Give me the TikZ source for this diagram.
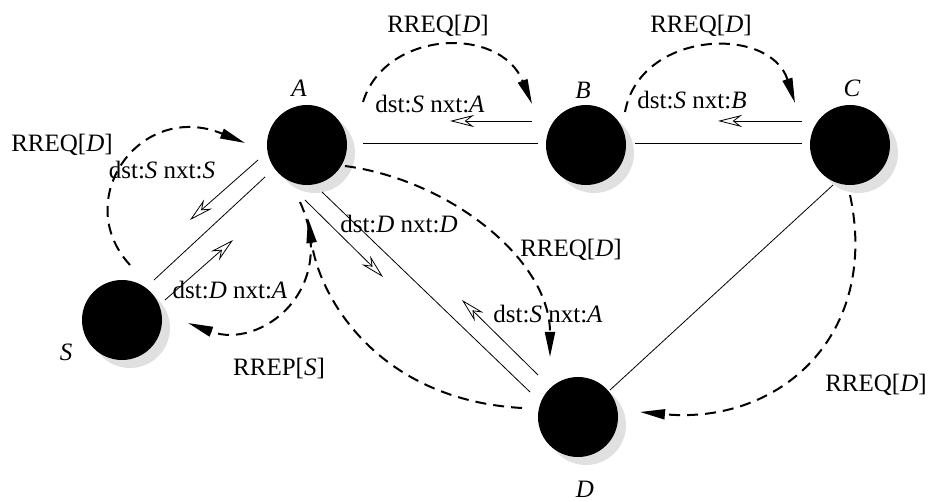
\documentclass[tikz,border=0pt]{standalone}
\usepackage{fontspec}
\setmainfont{Liberation Serif}
\usetikzlibrary{arrows.meta,calc,shadows}
\tikzset{
  dot/.style={circle,fill=black,minimum size=80pt,inner sep=0pt,
    drop shadow={shadow xshift=8pt,shadow yshift=-8pt,fill=black!12,opacity=1}},
  link/.style={line width=0.8pt},
  msg/.style={line width=0.8pt,-{Stealth[open,length=24pt,width=12pt,inset=8pt]}},
  req/.style={line width=2pt,dash pattern=on 11pt off 7pt,-{Triangle[length=25pt,width=10pt]}},
  lbl/.style={font=\fontsize{25}{29}\selectfont,inner sep=1pt}
}
\begin{document}
\begin{tikzpicture}[x=1pt,y=-1pt]
\useasboundingbox (0,0) rectangle (929,502);
\node[dot] (A) at (307,145) {};
\node[dot] (B) at (586,145) {};
\node[dot] (C) at (850,145) {};
\node[dot] (S) at (122,320) {};
\node[dot] (D) at (578,417) {};
% node names
\node[lbl] (lA) at (299,88) {\textit{A}};
\node[lbl] (lB) at (583,90) {\textit{B}};
\node[lbl] (lC) at (852,88) {\textit{C}};
\node[lbl] (lS) at (66,352) {\textit{S}};
\node[lbl] (lD) at (585,489) {\textit{D}};
% solid links
\draw[link] ($(A)+(56,-2)$) -- ($(B)+(-48,-2)$);
\draw[link] ($(B)+(49,-2)$) -- ($(C)+(-48,-2)$);
\draw[link] ($(C)+(-17,40)$) -- ($(D)+(32,-27)$);
\draw[link] ($(A)+(-42,32)$) -- ($(S)+(32,-40)$);
\draw[link] ($(A)+(15,47)$) -- ($(D)+(-48,-25)$);
% message arrows
\draw[msg] ($(B)+(-54,-24)$) -- ($(A)+(143,-24)$);
\draw[msg] ($(C)+(-48,-24)$) -- ($(B)+(132,-24)$);
\draw[msg] ($(A)+(-49,15)$) -- ($(S)+(68,-100)$);
\draw[msg] ($(S)+(43,-20)$) -- ($(A)+(-74,95)$);
\draw[msg] ($(A)+(-2,55)$) -- ($(D)+(-195,-140)$);
\draw[msg] ($(D)+(-40,-42)$) -- ($(A)+(155,155)$);
% dashed request / reply curves
\draw[req] ($(S)+(8,-55)$) .. controls (70,200) and (140,100) .. ($(A)+(-62,-2)$);
\draw[req] ($(A)+(-7,57)$) .. controls (340,290) and (260,350) .. ($(S)+(66,3)$);
\draw[req] ($(D)+(-56,-9)$) .. controls (380,400) and (320,300) .. ($(A)+(1,73)$);
\draw[req] ($(A)+(38,21)$) .. controls (450,180) and (550,260) .. ($(D)+(-28,-60)$);
\draw[req] ($(A)+(56,-43)$) .. controls (385,30) and (500,25) .. ($(B)+(-54,-41)$);
\draw[req] ($(B)+(39,-33)$) .. controls (640,30) and (770,25) .. ($(C)+(-55,-42)$);
\draw[req] ($(C)+(0,50)$) .. controls (880,335) and (780,425) .. ($(D)+(62,-5)$);
% labels
\node[lbl] (r1) at (438,26) {RREQ[\textit{D}]};
\node[lbl] (r2) at (701,26) {RREQ[\textit{D}]};
\node[lbl] (r3) at (62,145) {RREQ[\textit{D}]};
\node[lbl] (r4) at (571,250) {RREQ[\textit{D}]};
\node[lbl] (r5) at (876,385) {RREQ[\textit{D}]};
\node[lbl] (rp) at (279,368) {RREP[\textit{S}]};
\node[lbl] (m1) at (430,104) {dst:\textit{S} nxt:\textit{A}};
\node[lbl] (m2) at (692,100) {dst:\textit{S} nxt:\textit{B}};
\node[lbl] (m3) at (162,170) {dst:\textit{S} nxt:\textit{S}};
\node[lbl] (m4) at (230,290) {dst:\textit{D} nxt:\textit{A}};
\node[lbl] (m5) at (399,224) {dst:\textit{D} nxt:\textit{D}};
\node[lbl] (m6) at (548,314) {dst:\textit{S} nxt:\textit{A}};
\end{tikzpicture}
\end{document}
